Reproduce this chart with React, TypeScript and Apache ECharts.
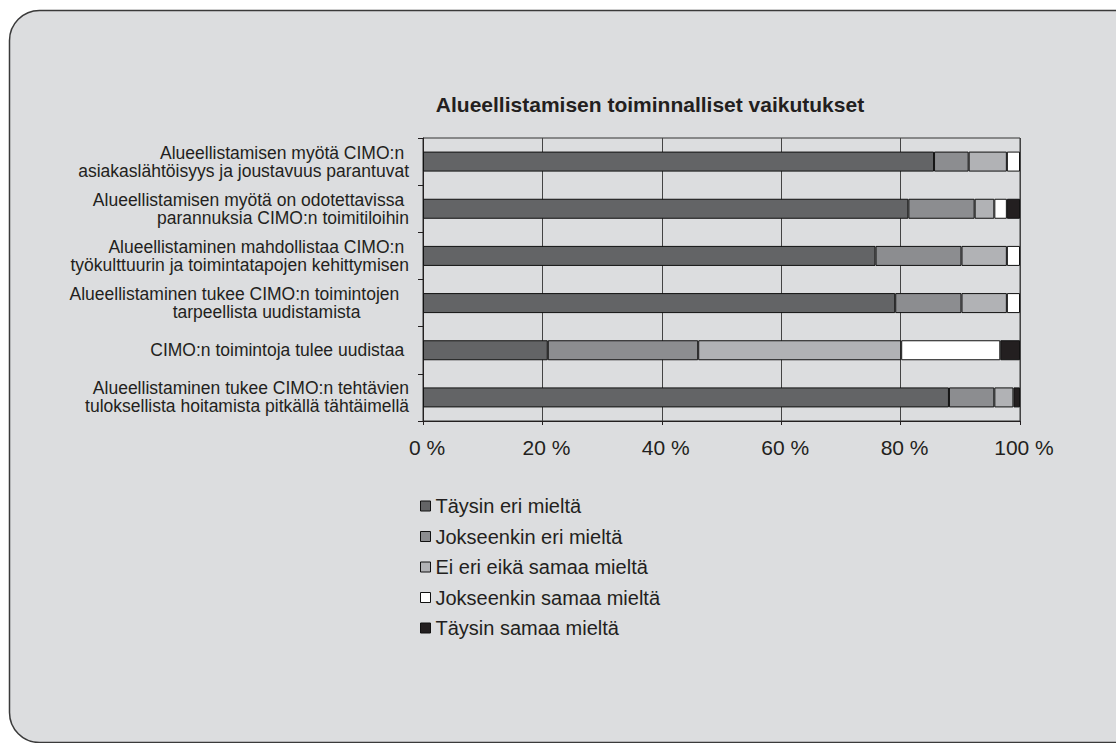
import React, { useEffect, useRef } from "react";
import * as echarts from "echarts";

const title = "Alueellistamisen toiminnalliset vaikutukset";

const categoryLines = [
  ["Alueellistamisen myötä CIMO:n", "asiakaslähtöisyys ja joustavuus parantuvat"],
  ["Alueellistamisen myötä on odotettavissa", "parannuksia CIMO:n toimitiloihin"],
  ["Alueellistaminen mahdollistaa CIMO:n", "työkulttuurin ja toimintatapojen kehittymisen"],
  ["Alueellistaminen tukee CIMO:n toimintojen", "tarpeellista uudistamista"],
  ["CIMO:n toimintoja tulee uudistaa"],
  ["Alueellistaminen tukee CIMO:n tehtävien", "tuloksellista hoitamista pitkällä tähtäimellä"],
];

const seriesNames = [
  "Täysin eri mieltä",
  "Jokseenkin eri mieltä",
  "Ei eri eikä samaa mieltä",
  "Jokseenkin samaa mieltä",
  "Täysin samaa mieltä",
];

const taysinEri = [85.6, 81.3, 75.8, 79.1, 20.9, 88.1];
const jokseenkinEri = [5.8, 11.1, 14.4, 11.1, 25.2, 7.6];
const eiEriEikaSamaa = [6.4, 3.3, 7.6, 7.6, 34.0, 3.2];
const jokseenkinSamaa = [2.2, 2.1, 2.2, 2.2, 16.6, 0];
const taysinSamaa = [0, 2.2, 0, 0, 3.3, 1.1];

const seriesValues = [taysinEri, jokseenkinEri, eiEriEikaSamaa, jokseenkinSamaa, taysinSamaa];
const seriesColors = ["#636466", "#8c8d90", "#b1b2b5", "#ffffff", "#231f20"];

// trailing non-breaking spaces per label line (visual alignment as in the original)
const linePad = [
  [1, 0],
  [1, 0],
  [1, 0],
  [2, 10],
  [1],
  [0, 0],
];

const categories = categoryLines.map((lines, i) =>
  lines.map((l, j) => l + "\u00a0".repeat(linePad[i][j])).join("\n")
);

const FONT = "'Liberation Sans', Arial, Helvetica, sans-serif";

export default function App() {
  const ref = useRef<HTMLDivElement>(null);
  useEffect(() => {
    if (!ref.current) return;
    const chart = echarts.init(ref.current, undefined, { renderer: "svg" });
    chart.setOption({
      animation: false,
      backgroundColor: "#ffffff",
      textStyle: { fontFamily: FONT, color: "#231f20" },
      graphic: [
        {
          type: "rect",
          z: -100,
          silent: true,
          shape: { x: 9.5, y: 10.5, width: 1300, height: 732, r: 30 },
          style: { fill: "#dcdddf", stroke: "#3a3a3a", lineWidth: 1.5 },
        },
      ],
      title: {
        text: title,
        left: 645,
        textAlign: "center",
        top: 89,
        textStyle: { fontFamily: FONT, fontWeight: "bold", fontSize: 21, color: "#231f20" },
      },
      legend: {
        orient: "vertical",
        left: 415,
        top: 491,
        itemWidth: 10,
        itemHeight: 10,
        itemGap: 10.5,
        icon: "rect",
        data: seriesNames,
        itemStyle: { borderColor: "#111", borderWidth: 1 },
        textStyle: { fontFamily: FONT, fontSize: 20, color: "#231f20", lineHeight: 20 },
      },
      grid: {
        left: 423,
        top: 138,
        width: 597,
        height: 283,
        show: true,
        borderColor: "#333",
        borderWidth: 1,
        backgroundColor: "transparent",
      },
      xAxis: {
        type: "value",
        min: 0,
        max: 100,
        interval: 20,
        axisLine: { show: true, lineStyle: { color: "#231f20", width: 1 } },
        axisTick: { show: true, length: 4, lineStyle: { color: "#231f20" } },
        splitLine: { show: true, lineStyle: { color: "#444", width: 1 } },
        axisLabel: {
          formatter: "{value} %",
          fontFamily: FONT,
          fontSize: 21,
          color: "#231f20",
          margin: 16,
          padding: [0, 0, 0, 8],
        },
      },
      yAxis: {
        type: "category",
        inverse: true,
        data: categories,
        axisLine: { show: true, lineStyle: { color: "#231f20", width: 1 } },
        axisTick: { show: true, length: 5, lineStyle: { color: "#231f20" } },
        splitLine: { show: false },
        axisLabel: {
          fontFamily: FONT,
          fontSize: 17.5,
          lineHeight: 18,
          color: "#231f20",
          align: "right",
          margin: 14,
        },
      },
      series: seriesNames.map((name, i) => ({
        name,
        type: "bar",
        stack: "total",
        barWidth: 20,
        data: seriesValues[i].map((v) => (v === 0 ? "-" : v)),
        itemStyle: { color: seriesColors[i], borderColor: "#111", borderWidth: 1 },
      })),
    });
    return () => chart.dispose();
  }, []);
  return (
    <div
      ref={ref}
      style={{ position: "fixed", left: 0, top: 0, width: 1116, height: 743 }}
    />
  );
}
